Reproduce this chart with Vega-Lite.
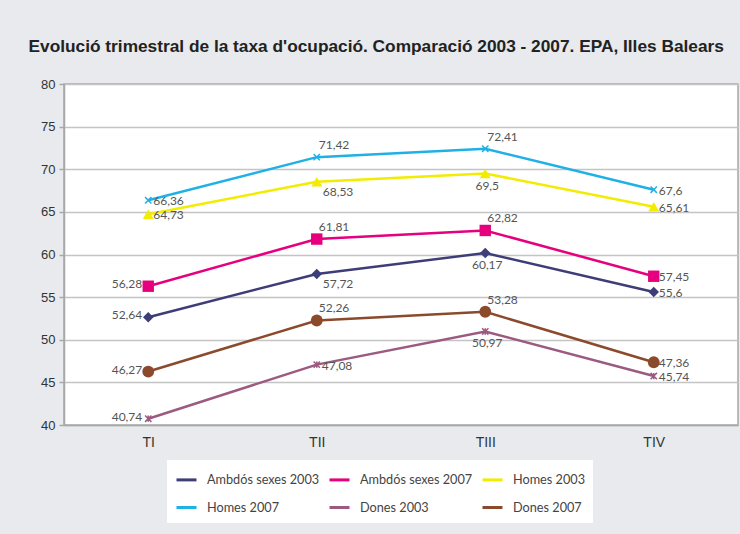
{
  "$schema": "https://vega.github.io/schema/vega-lite/v6.json",
  "width": 674,
  "height": 341,
  "autosize": {"type": "none"},
  "padding": {"left": 64, "top": 84, "right": 2, "bottom": 109},
  "background": "#e8eaed",
  "title": {
    "text": "Evolució trimestral de la taxa d'ocupació. Comparació 2003 - 2007. EPA, Illes Balears",
    "anchor": "start",
    "dx": -12,
    "offset": 23,
    "font": "Liberation Sans",
    "fontSize": 17.3,
    "fontWeight": "bold",
    "color": "#222222"
  },
  "config": {
    "locale": {"number": {"decimal": ",", "thousands": ".", "grouping": [3], "currency": ["", " €"]}},
    "view": {"fill": "white", "stroke": "#a8a8a8", "strokeWidth": 1.5}
  },
  "data": {
    "values": [
      {"serie": "Ambdós sexes 2003", "trim": "TI", "valor": 52.64},
      {"serie": "Ambdós sexes 2003", "trim": "TII", "valor": 57.72},
      {"serie": "Ambdós sexes 2003", "trim": "TIII", "valor": 60.17},
      {"serie": "Ambdós sexes 2003", "trim": "TIV", "valor": 55.6},
      {"serie": "Ambdós sexes 2007", "trim": "TI", "valor": 56.28},
      {"serie": "Ambdós sexes 2007", "trim": "TII", "valor": 61.81},
      {"serie": "Ambdós sexes 2007", "trim": "TIII", "valor": 62.82},
      {"serie": "Ambdós sexes 2007", "trim": "TIV", "valor": 57.45},
      {"serie": "Homes 2003", "trim": "TI", "valor": 64.73},
      {"serie": "Homes 2003", "trim": "TII", "valor": 68.53},
      {"serie": "Homes 2003", "trim": "TIII", "valor": 69.5},
      {"serie": "Homes 2003", "trim": "TIV", "valor": 65.61},
      {"serie": "Homes 2007", "trim": "TI", "valor": 66.36},
      {"serie": "Homes 2007", "trim": "TII", "valor": 71.42},
      {"serie": "Homes 2007", "trim": "TIII", "valor": 72.41},
      {"serie": "Homes 2007", "trim": "TIV", "valor": 67.6},
      {"serie": "Dones 2003", "trim": "TI", "valor": 40.74},
      {"serie": "Dones 2003", "trim": "TII", "valor": 47.08},
      {"serie": "Dones 2003", "trim": "TIII", "valor": 50.97},
      {"serie": "Dones 2003", "trim": "TIV", "valor": 45.74},
      {"serie": "Dones 2007", "trim": "TI", "valor": 46.27},
      {"serie": "Dones 2007", "trim": "TII", "valor": 52.26},
      {"serie": "Dones 2007", "trim": "TIII", "valor": 53.28},
      {"serie": "Dones 2007", "trim": "TIV", "valor": 47.36}
    ]
  },
  "encoding": {
    "x": {
      "field": "trim", "type": "ordinal", "sort": ["TI", "TII", "TIII", "TIV"],
      "scale": {"type": "point", "padding": 0.5},
      "axis": {
        "title": null, "labelAngle": 0, "labelFont": "Liberation Sans", "labelFontSize": 14,
        "labelColor": "#333333", "labelPadding": 10, "domainColor": "#a8a8a8", "domainWidth": 1.5,
        "ticks": false, "grid": false
      }
    },
    "y": {
      "field": "valor", "type": "quantitative",
      "scale": {"domain": [40, 80], "nice": false, "zero": false},
      "axis": {
        "title": null, "values": [40, 45, 50, 55, 60, 65, 70, 75, 80],
        "labelFont": "Liberation Sans", "labelFontSize": 13, "labelColor": "#333333",
        "labelPadding": 4, "domainColor": "#a8a8a8", "domainWidth": 1.5,
        "tickColor": "#a8a8a8", "tickSize": 5, "tickWidth": 1.5,
        "gridColor": "#c4c4c4", "gridWidth": 1.5
      }
    }
  },
  "layer": [
    {
      "mark": {"type": "line", "strokeWidth": 2.5},
      "encoding": {
        "color": {
          "field": "serie", "type": "nominal",
          "scale": {
            "domain": ["Ambdós sexes 2003", "Ambdós sexes 2007", "Homes 2003", "Homes 2007", "Dones 2003", "Dones 2007"],
            "range": ["#3d3d78", "#e6007e", "#f2ec00", "#1fb1e6", "#9c5a80", "#8c4a2c"]
          },
          "legend": {
            "title": null, "orient": "none", "legendX": 103, "legendY": 376,
            "columns": 3, "direction": "horizontal", "symbolType": "stroke",
            "symbolStrokeWidth": 3, "symbolSize": 400, "labelFont": "Lato", "labelFontSize": 12.7,
            "labelColor": "#444444", "fillColor": "white", "padding": 8,
            "rowPadding": 9, "columnPadding": 3, "labelOffset": 9, "labelLimit": 200
          }
        }
      }
    },
    {
      "transform": [{"filter": "datum.serie == 'Ambdós sexes 2003'"}],
      "mark": {"type": "point", "filled": true, "opacity": 1, "shape": "diamond", "size": 110, "color": "#3d3d78"}
    },
    {
      "transform": [{"filter": "datum.serie == 'Ambdós sexes 2007'"}],
      "mark": {"type": "point", "filled": true, "opacity": 1, "shape": "square", "size": 130, "color": "#e6007e"}
    },
    {
      "transform": [{"filter": "datum.serie == 'Homes 2003'"}],
      "mark": {"type": "point", "filled": true, "opacity": 1, "shape": "triangle-up", "size": 120, "color": "#f2ec00"}
    },
    {
      "transform": [{"filter": "datum.serie == 'Dones 2007'"}],
      "mark": {"type": "point", "filled": true, "opacity": 1, "shape": "circle", "size": 140, "color": "#8c4a2c"}
    },
    {
      "transform": [{"filter": "datum.serie == 'Homes 2007'"}],
      "mark": {"type": "point", "filled": false, "opacity": 1, "strokeWidth": 1.5, "shape": "M-1,-1L1,1M-1,1L1,-1", "size": 40, "color": "#1fb1e6"}
    },
    {
      "transform": [{"filter": "datum.serie == 'Dones 2003'"}],
      "mark": {"type": "point", "filled": false, "opacity": 1, "strokeWidth": 1.5, "shape": "M-1,-1L1,1M-1,1L1,-1M0,-1L0,1", "size": 40, "color": "#9c5a80"}
    },
    {
      "transform": [{"filter": "datum.trim == 'TIV' || (datum.trim == 'TI' && (datum.serie == 'Homes 2007' || datum.serie == 'Homes 2003')) || (datum.trim == 'TII' && datum.serie == 'Dones 2003')"}],
      "mark": {"type": "text", "align": "left", "baseline": "middle", "dx": 5, "dy": 1, "font": "Lato", "fontSize": 12, "color": "#555555"},
      "encoding": {"text": {"field": "valor", "type": "quantitative", "format": "~g"}}
    },
    {
      "transform": [{"filter": "datum.trim == 'TI' && (datum.serie == 'Ambdós sexes 2003' || datum.serie == 'Ambdós sexes 2007' || datum.serie == 'Dones 2003' || datum.serie == 'Dones 2007')"}],
      "mark": {"type": "text", "align": "right", "baseline": "middle", "dx": -6, "dy": -2, "font": "Lato", "fontSize": 12, "color": "#555555"},
      "encoding": {"text": {"field": "valor", "type": "quantitative", "format": "~g"}}
    },
    {
      "transform": [{"filter": "(datum.trim == 'TII' || datum.trim == 'TIII') && (datum.serie == 'Homes 2007' || datum.serie == 'Ambdós sexes 2007' || datum.serie == 'Dones 2007')"}],
      "mark": {"type": "text", "align": "left", "baseline": "bottom", "dx": 2, "dy": -5, "font": "Lato", "fontSize": 12, "color": "#555555"},
      "encoding": {"text": {"field": "valor", "type": "quantitative", "format": "~g"}}
    },
    {
      "transform": [{"filter": "datum.trim == 'TII' && (datum.serie == 'Homes 2003' || datum.serie == 'Ambdós sexes 2003')"}],
      "mark": {"type": "text", "align": "left", "baseline": "top", "dx": 6, "dy": 5, "font": "Lato", "fontSize": 12, "color": "#555555"},
      "encoding": {"text": {"field": "valor", "type": "quantitative", "format": "~g"}}
    },
    {
      "transform": [{"filter": "datum.trim == 'TIII' && (datum.serie == 'Homes 2003' || datum.serie == 'Ambdós sexes 2003' || datum.serie == 'Dones 2003')"}],
      "mark": {"type": "text", "align": "center", "baseline": "top", "dx": 2, "dy": 7, "font": "Lato", "fontSize": 12, "color": "#555555"},
      "encoding": {"text": {"field": "valor", "type": "quantitative", "format": "~g"}}
    }
  ]
}
